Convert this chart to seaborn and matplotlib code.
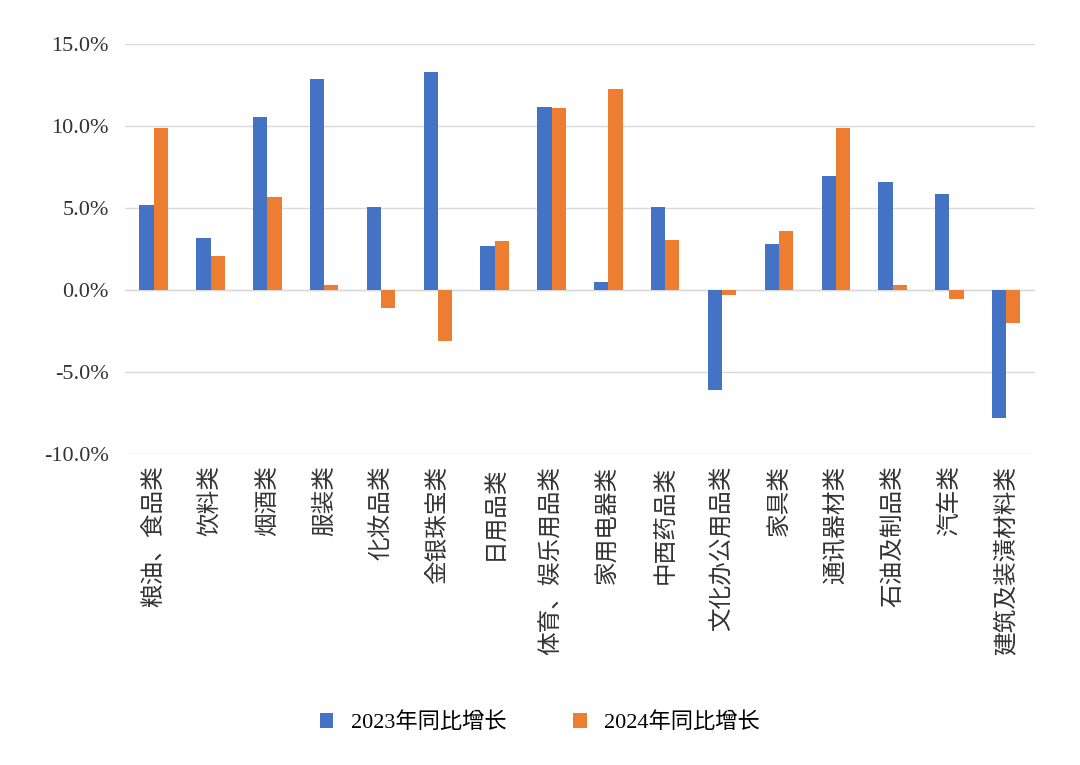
import matplotlib
matplotlib.use("Agg")
import matplotlib.pyplot as plt
from matplotlib import font_manager as fm
import seaborn as sns
import pandas as pd

categories = ["粮油、食品类","饮料类","烟酒类","服装类","化妆品类","金银珠宝类","日用品类",
              "体育、娱乐用品类","家用电器类","中西药品类","文化办公用品类","家具类",
              "通讯器材类","石油及制品类","汽车类","建筑及装潢材料类"]
growth_2023 = [5.2,3.2,10.6,12.9,5.1,13.3,2.7,11.2,0.5,5.1,-6.1,2.8,7.0,6.6,5.9,-7.8]
growth_2024 = [9.9,2.1,5.7,0.3,-1.1,-3.1,3.0,11.1,12.3,3.1,-0.3,3.6,9.9,0.3,-0.5,-2.0]
series = ["2023年同比增长","2024年同比增长"]
yticks = [-10,-5,0,5,10,15]

names = sorted({f.name for f in fm.fontManager.ttflist if "CJK" in f.name})
cjk = next((n for n in names if "SC" in n), names[0] if names else "DejaVu Sans")

df = pd.DataFrame({"cat": categories*2,
                   "val": growth_2023+growth_2024,
                   "s": [series[0]]*16+[series[1]]*16})

fig = plt.figure(figsize=(10.8,7.65), dpi=100)
ax = fig.add_axes([0.116, 0.406, 0.842, 0.536])
sns.barplot(data=df, x="cat", y="val", hue="s", palette=["#4472C4","#ED7D31"],
            saturation=1, width=0.5, ax=ax, legend=True, zorder=3)
ax.set_ylim(-10,15)
ax.set_xlim(-0.5,15.5)
ax.set_yticks(yticks)
ax.set_yticklabels([f"{v:.1f}%" for v in yticks], fontfamily="Liberation Serif", fontsize=16, color="#333333")
ax.set_xticks(range(16))
ax.set_xticklabels(categories, rotation=90, fontfamily=cjk, fontsize=17, color="#333333")
ax.grid(axis="y", color="#d9d9d9", lw=1, zorder=0)
ax.axhline(0, color="#d9d9d9", lw=1, zorder=1)
for s in ax.spines.values():
    s.set_visible(False)
ax.tick_params(length=0)
ax.tick_params(axis="y", pad=12)
ax.tick_params(axis="x", pad=8)
ax.set_xlabel(""); ax.set_ylabel("")
h, l = ax.get_legend_handles_labels()
ax.legend_.remove()
fig.legend(h, l, loc="center", bbox_to_anchor=(0.5, 0.055), ncol=2, frameon=False,
           prop={"family":["Liberation Serif", cjk], "size":16},
           handlelength=0.6, handleheight=0.6, columnspacing=3)
fig.savefig("out.png", dpi=100)
